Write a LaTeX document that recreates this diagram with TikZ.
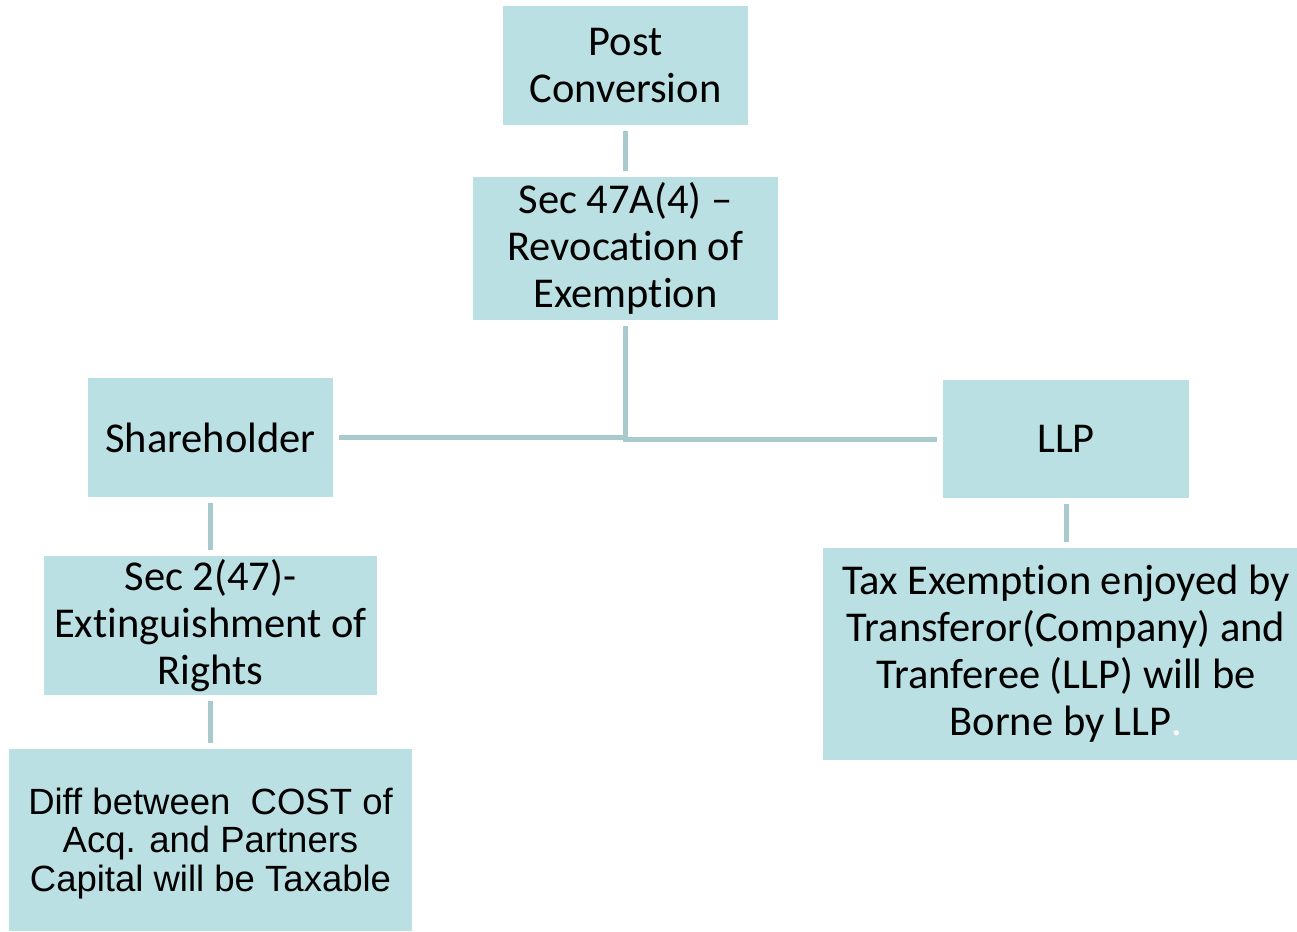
\documentclass[tikz,border=0pt]{standalone}
\usepackage{fontspec}
\setmainfont{Carlito}[Ligatures={TeX,NoCommon}]
\newfontfamily\arialf{Liberation Sans}
\definecolor{boxfill}{HTML}{BAE0E3}
\definecolor{linec}{HTML}{A8CACC}
\tikzset{
  box/.style={fill=boxfill, draw=none, inner sep=0pt, align=center, text=black,
    font=\fontsize{42.5}{47}\selectfont},
  conn/.style={draw=linec, line width=5pt, shorten <=6pt, shorten >=6pt}
}
\begin{document}
\begin{tikzpicture}[x=1pt, y=-1pt]
\useasboundingbox (0,0) rectangle (1297,931);
\node[box, minimum width=245pt, minimum height=119pt] (post) at (625.5,65.5) {Post\\Conversion};
\node[box, minimum width=305pt, minimum height=143pt] (sec47) at (625.5,248.5) {Sec 47A(4) --\\Revocation of\\Exemption};
\node[box, minimum width=245pt, minimum height=119pt] (share) at (210.5,437.5) {Shareholder};
\node[box, minimum width=246pt, minimum height=118pt] (llp) at (1066,439) {LLP};
\node[box, minimum width=333pt, minimum height=139pt] (sec2) at (210.5,625.5) {Sec 2(47)-\\Extinguishment of\\Rights};
\node[box, minimum width=403pt, minimum height=182pt, font=\arialf\fontsize{36.5}{38.5}\selectfont] (diff) at (210.5,840) {\raisebox{-5pt}[\height][\depth]{\begin{tabular}{@{}c@{}}Diff between\ \ COST of\\Acq. and Partners\\Capital will be Taxable\end{tabular}}};
\node[box, minimum width=474pt, minimum height=212pt] (tax) at (1060,654) {\hspace*{12pt}Tax Exemption enjoyed by\\\hspace*{12pt}Transferor(Company) and\\\hspace*{12pt}Tranferee (LLP) will be\\\hspace*{12pt}Borne by LLP\textcolor{white}{.}};
\draw[conn] (post) -- (sec47);
\draw[conn] (sec47.south) |- (share.east);
\draw[conn] (sec47.south) |- (llp.west);
\draw[conn] (share) -- (sec2);
\draw[conn] (sec2) -- (diff);
\draw[conn] (llp.south) -- (llp.south |- tax.north);
\end{tikzpicture}
\end{document}
